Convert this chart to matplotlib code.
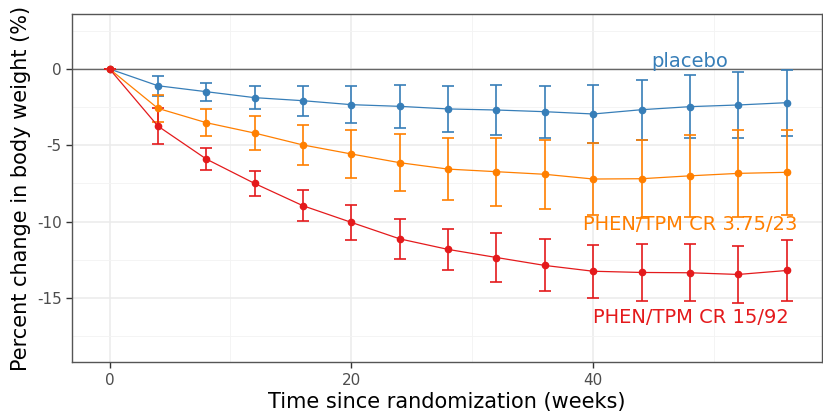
import matplotlib
matplotlib.use("Agg")
import matplotlib.pyplot as plt
from matplotlib.ticker import MultipleLocator

plt.rcParams["axes.unicode_minus"] = False

weeks = [0, 4, 8, 12, 16, 20, 24, 28, 32, 36, 40, 44, 48, 52, 56]

placebo = [0, -1.1, -1.49, -1.88, -2.08, -2.34, -2.45, -2.62, -2.69, -2.8, -2.95, -2.67, -2.47, -2.36, -2.21]
placebo_err = [0, 0.67, 0.58, 0.75, 0.97, 1.22, 1.42, 1.53, 1.66, 1.7, 1.87, 1.97, 2.06, 2.15, 2.15]

low_dose = [0, -2.58, -3.52, -4.2, -4.98, -5.57, -6.14, -6.56, -6.73, -6.9, -7.21, -7.19, -7.0, -6.84, -6.77]
low_dose_err = [0, 0.87, 0.87, 1.12, 1.28, 1.55, 1.86, 2.02, 2.23, 2.27, 2.38, 2.55, 2.7, 2.86, 2.8]

high_dose = [0, -3.74, -5.9, -7.5, -8.96, -10.05, -11.13, -11.82, -12.35, -12.87, -13.25, -13.33, -13.35, -13.46, -13.2]
high_dose_err = [0, 1.2, 0.69, 0.84, 1.02, 1.17, 1.3, 1.36, 1.62, 1.7, 1.75, 1.85, 1.87, 1.89, 2.0]

labels = ["placebo", "PHEN/TPM CR 3.75/23", "PHEN/TPM CR 15/92"]
label_pos = [(48.0, 0.5), (48.0, -10.2), (48.1, -16.3)]
colors = ["#377EB8", "#FF7F00", "#E41A1C"]


def init_figure():
    fig = plt.figure(figsize=(8.23, 4.11), dpi=100)
    ax = fig.add_axes([0.0875, 0.119, 0.911, 0.847])
    ax.set_facecolor("white")
    ax.set_xlim(-3.1, 58.9)
    ax.set_ylim(-19.2, 3.6)
    ax.xaxis.set_major_locator(MultipleLocator(20))
    ax.xaxis.set_minor_locator(MultipleLocator(10))
    ax.yaxis.set_major_locator(MultipleLocator(5))
    ax.yaxis.set_minor_locator(MultipleLocator(2.5))
    ax.grid(which="major", color="#EBEBEB", lw=1.1)
    ax.grid(which="minor", color="#F3F3F3", lw=0.6)
    ax.set_axisbelow(True)
    for s in ax.spines.values():
        s.set_color("#555555")
        s.set_linewidth(1.0)
    ax.tick_params(which="major", length=4, width=1, color="#333333",
                   labelsize=11, labelcolor="#4D4D4D")
    ax.tick_params(which="minor", length=0)
    return fig, ax


def draw_series(ax, y, err, color):
    ax.errorbar(weeks, y, yerr=err, color=color, lw=0.9, marker="o", ms=4.5,
                elinewidth=1.2, capsize=4, capthick=1.2, ecolor=color,
                alpha=1.0, zorder=3)


fig, ax = init_figure()
ax.axhline(0, color="#666666", lw=1.0, zorder=1)

for y, err, c in zip([placebo, low_dose, high_dose],
                     [placebo_err, low_dose_err, high_dose_err], colors):
    draw_series(ax, y, err, c)

for txt, (x, y), c in zip(labels, label_pos, colors):
    ax.text(x, y, txt, color=c, fontsize=14, ha="center", va="center", zorder=4)

ax.set_xlabel("Time since randomization (weeks)", fontsize=15, labelpad=3)
ax.set_ylabel("Percent change in body weight (%)", fontsize=15, labelpad=4)

fig.savefig("out.png", dpi=100)
